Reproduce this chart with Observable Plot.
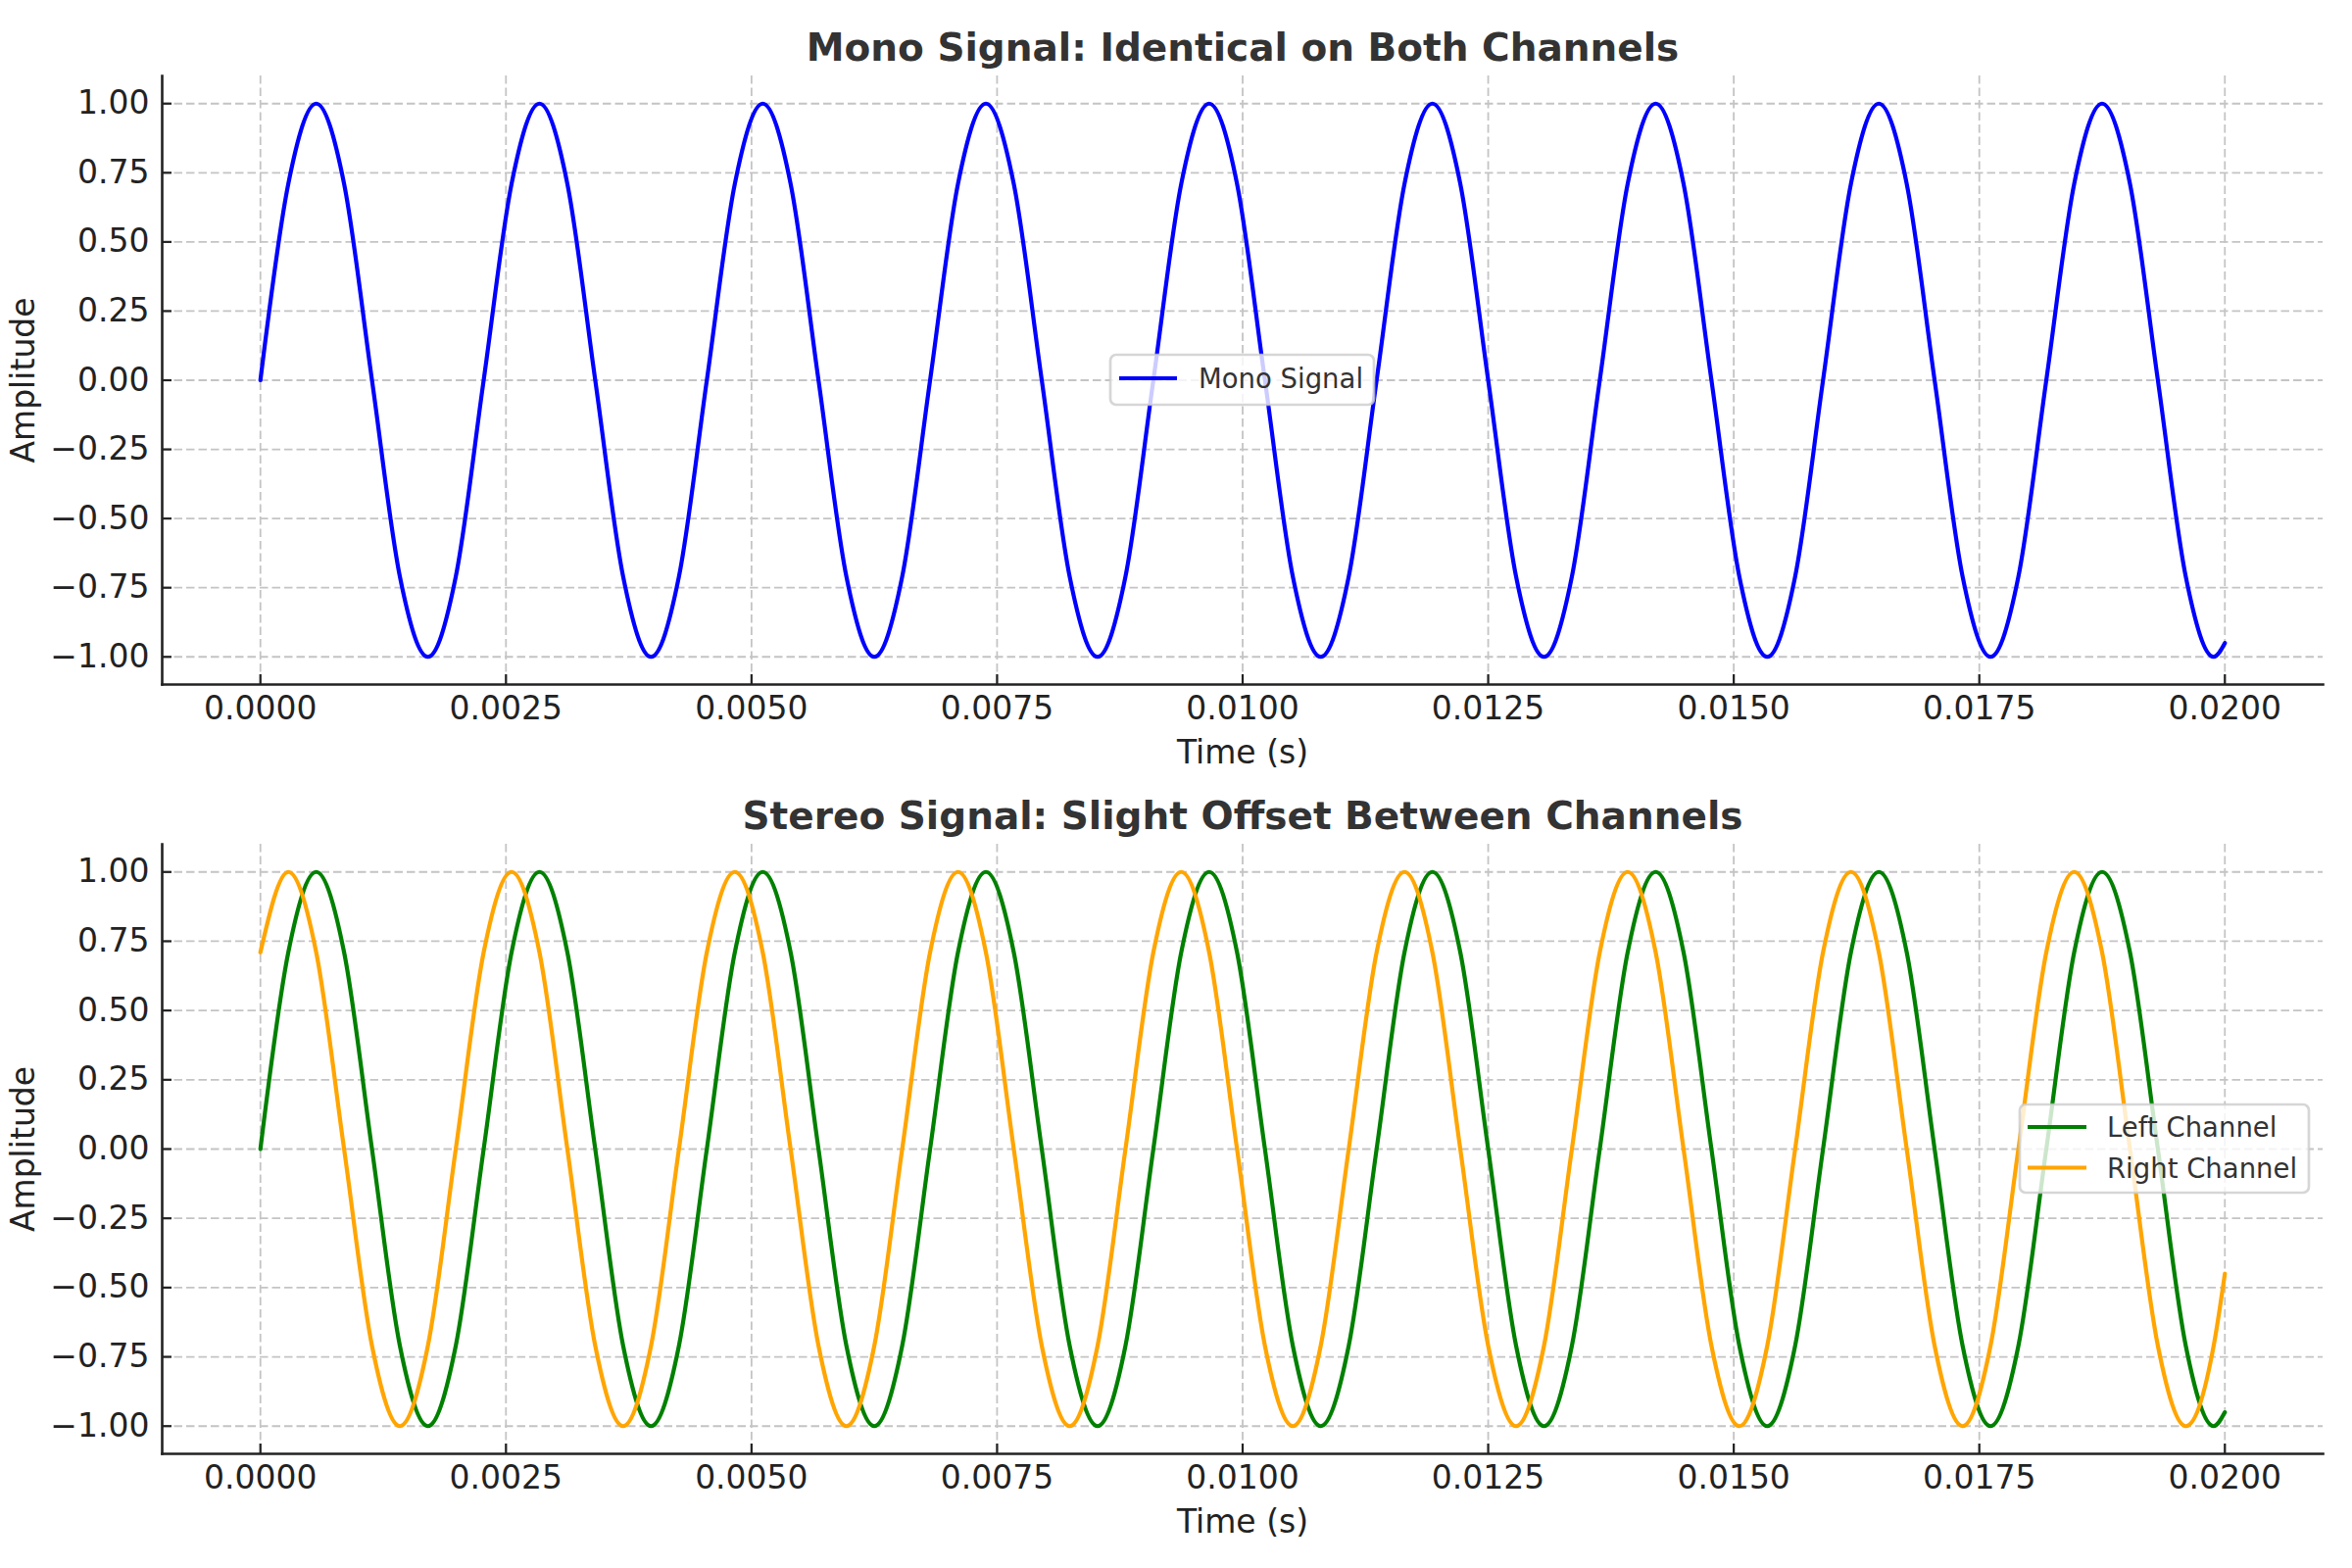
<!DOCTYPE html>
<html>
<head>
<meta charset="utf-8">
<script src="https://cdn.jsdelivr.net/npm/d3@7"></script>
<script src="https://cdn.jsdelivr.net/npm/@observablehq/plot@0.6"></script>
<style>
  html, body { margin: 0; padding: 0; background: #fff; }
  #root { position: relative; width: 2400px; height: 1600px; background: #fff; overflow: hidden; font-family: "DejaVu Sans", sans-serif; }
  .panel { position: absolute; left: 0; width: 2400px; height: 800px; }
  #legends { position: absolute; left: 0; top: 0; pointer-events: none; }
</style>
</head>
<body>
<div id="root">
  <div id="top" class="panel" style="top:0px"></div>
  <div id="bottom" class="panel" style="top:800px"></div>
</div>
<script>
const timeS = [
  0, 0.000284, 0.000568, 0.000852, 0.001136, 0.001420, 0.001705, 0.001989,
  0.002273, 0.002557, 0.002841, 0.003125, 0.003409, 0.003693, 0.003977, 0.004261,
  0.004545, 0.004830, 0.005114, 0.005398, 0.005682, 0.005966, 0.006250, 0.006534,
  0.006818, 0.007102, 0.007386, 0.007670, 0.007955, 0.008239, 0.008523, 0.008807,
  0.009091, 0.009375, 0.009659, 0.009943, 0.010227, 0.010511, 0.010795, 0.011080,
  0.011364, 0.011648, 0.011932, 0.012216, 0.012500, 0.012784, 0.013068, 0.013352,
  0.013636, 0.013920, 0.014205, 0.014489, 0.014773, 0.015057, 0.015341, 0.015625,
  0.015909, 0.016193, 0.016477, 0.016761, 0.017045, 0.017330, 0.017614, 0.017898,
  0.018182, 0.018466, 0.018750, 0.019034, 0.019318, 0.019602, 0.019886, 0.020000
];
const monoAmp = [
  0, 0.71, 1, 0.71, 0, -0.71, -1, -0.71,
  0, 0.71, 1, 0.71, 0, -0.71, -1, -0.71,
  0, 0.71, 1, 0.71, 0, -0.71, -1, -0.71,
  0, 0.71, 1, 0.71, 0, -0.71, -1, -0.71,
  0, 0.71, 1, 0.71, 0, -0.71, -1, -0.71,
  0, 0.71, 1, 0.71, 0, -0.71, -1, -0.71,
  0, 0.71, 1, 0.71, 0, -0.71, -1, -0.71,
  0, 0.71, 1, 0.71, 0, -0.71, -1, -0.71,
  0, 0.71, 1, 0.71, 0, -0.71, -1, -0.95
];
const leftAmp = [
  0, 0.71, 1, 0.71, 0, -0.71, -1, -0.71,
  0, 0.71, 1, 0.71, 0, -0.71, -1, -0.71,
  0, 0.71, 1, 0.71, 0, -0.71, -1, -0.71,
  0, 0.71, 1, 0.71, 0, -0.71, -1, -0.71,
  0, 0.71, 1, 0.71, 0, -0.71, -1, -0.71,
  0, 0.71, 1, 0.71, 0, -0.71, -1, -0.71,
  0, 0.71, 1, 0.71, 0, -0.71, -1, -0.71,
  0, 0.71, 1, 0.71, 0, -0.71, -1, -0.71,
  0, 0.71, 1, 0.71, 0, -0.71, -1, -0.95
];
const rightAmp = [
  0.71, 1, 0.71, 0, -0.71, -1, -0.71, 0,
  0.71, 1, 0.71, 0, -0.71, -1, -0.71, 0,
  0.71, 1, 0.71, 0, -0.71, -1, -0.71, 0,
  0.71, 1, 0.71, 0, -0.71, -1, -0.71, 0,
  0.71, 1, 0.71, 0, -0.71, -1, -0.71, 0,
  0.71, 1, 0.71, 0, -0.71, -1, -0.71, 0,
  0.71, 1, 0.71, 0, -0.71, -1, -0.71, 0,
  0.71, 1, 0.71, 0, -0.71, -1, -0.71, 0,
  0.71, 1, 0.71, 0, -0.71, -1, -0.71, -0.45
];
const xTickValues = [0, 0.0025, 0.005, 0.0075, 0.01, 0.0125, 0.015, 0.0175, 0.02];
const yTickValues = [-1, -0.75, -0.5, -0.25, 0, 0.25, 0.5, 0.75, 1];
const titles = ["Mono Signal: Identical on Both Channels", "Stereo Signal: Slight Offset Between Channels"];
const xLabel = "Time (s)";
const yLabel = "Amplitude";
const topSeries = [{name: "Mono Signal", amp: monoAmp, color: "blue"}];
const bottomSeries = [
  {name: "Left Channel", amp: leftAmp, color: "green"},
  {name: "Right Channel", amp: rightAmp, color: "orange"}
];

// ---- Drawing ----
const FONT = "DejaVu Sans";
const fmtX = d3.format(".4f");
const fmtY = d3.format(".2f");
const LW = 4.2;

function panel(series, title, marginTop, marginBottom) {
  const lines = series.map(s =>
    Plot.line(timeS.map((t, i) => ({t, a: s.amp[i]})), {
      x: "t", y: "a", stroke: s.color, strokeWidth: LW, curve: "monotone-x"
    })
  );
  return Plot.plot({
    width: 2400,
    height: 800,
    marginLeft: 165,
    marginRight: 30,
    marginTop,
    marginBottom,
    style: {fontFamily: FONT, fontSize: "33px", color: "#222", background: "transparent", overflow: "visible"},
    x: {domain: [-0.001, 0.021]},
    y: {domain: [-1.1, 1.1]},
    marks: [
      Plot.gridX(xTickValues, {stroke: "#c4c4c4", strokeOpacity: 1, strokeWidth: 1.8, strokeDasharray: "8.5,4"}),
      Plot.gridY(yTickValues, {stroke: "#c4c4c4", strokeOpacity: 1, strokeWidth: 1.8, strokeDasharray: "8.5,4"}),
      ...lines,
      Plot.frame({anchor: "left", stroke: "#222", strokeWidth: 2.6}),
      Plot.frame({anchor: "bottom", stroke: "#222", strokeWidth: 2.6}),
      Plot.axisX(xTickValues, {tickSize: -10, tickPadding: 22, tickFormat: fmtX, fontSize: 33, strokeWidth: 2.2, stroke: "#222", fill: "#222", label: null}),
      Plot.axisY(yTickValues, {tickSize: -10, tickPadding: 23, tickFormat: fmtY, fontSize: 33, strokeWidth: 2.2, stroke: "#222", fill: "#222", label: null}),
      Plot.text([xLabel], {frameAnchor: "bottom", dy: 80, lineAnchor: "bottom", textAnchor: "middle", fontSize: 33, fill: "#222"}),
      Plot.text([yLabel], {frameAnchor: "left", dx: -131, rotate: -90, lineAnchor: "bottom", textAnchor: "middle", fontSize: 33, fill: "#222"}),
      Plot.text([title], {frameAnchor: "top", dy: -16, lineAnchor: "bottom", textAnchor: "middle", fontSize: 39, fontWeight: "bold", fill: "#333"})
    ]
  });
}

document.getElementById("top").appendChild(panel(topSeries, titles[0], 77, 102));
document.getElementById("bottom").appendChild(panel(bottomSeries, titles[1], 61, 117));

// ---- Legends (matplotlib-style boxes) ----
const svg = d3.select("#root").append("svg")
  .attr("id", "legends").attr("width", 2400).attr("height", 1600);

function legend(series, box, lineX0, lineX1, textX, lineYs) {
  const g = svg.append("g");
  g.append("rect")
    .attr("x", box.x).attr("y", box.y).attr("width", box.w).attr("height", box.h)
    .attr("rx", 6).attr("ry", 6)
    .attr("fill", "rgba(255,255,255,0.8)")
    .attr("stroke", "rgba(204,204,204,0.8)")
    .attr("stroke-width", 2.7);
  series.forEach((s, i) => {
    g.append("line").attr("x1", lineX0).attr("x2", lineX1)
      .attr("y1", lineYs[i]).attr("y2", lineYs[i])
      .attr("stroke", s.color).attr("stroke-width", LW);
    g.append("text").attr("x", textX).attr("y", lineYs[i] + 10)
      .attr("font-family", FONT).attr("font-size", 27.5).attr("fill", "#333")
      .text(s.name);
  });
}
legend(topSeries, {x: 1133, y: 362, w: 269, h: 51}, 1142, 1201, 1223, [386]);
legend(bottomSeries, {x: 2061, y: 1127, w: 295, h: 90}, 2069, 2129, 2150, [1150, 1191.5]);
</script>
</body>
</html>
